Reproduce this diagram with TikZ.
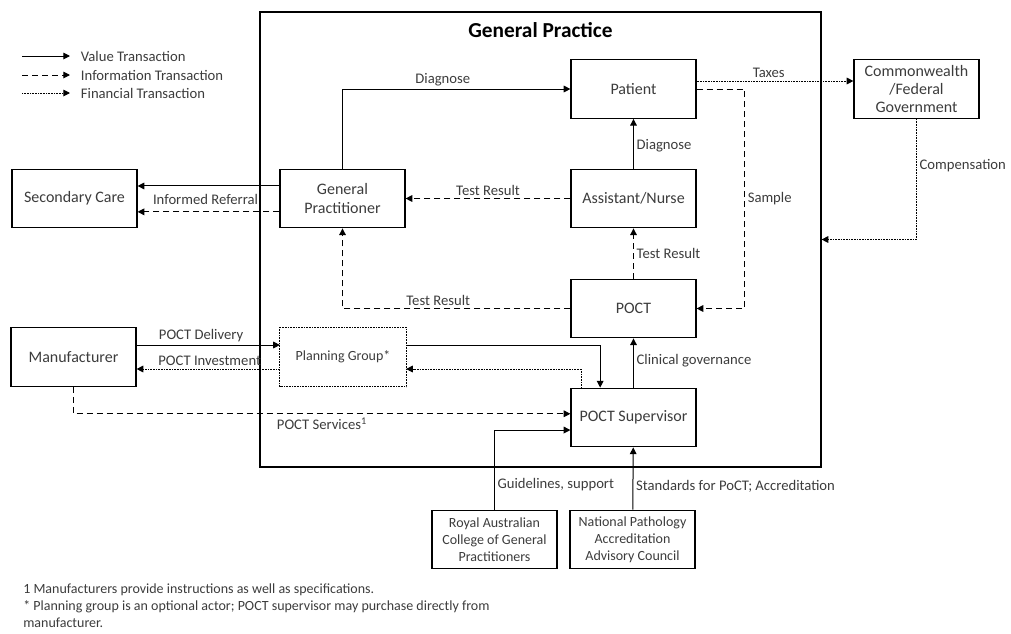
\documentclass[tikz,border=0pt]{standalone}
\usepackage{fontspec}
\setmainfont{Carlito}
\usetikzlibrary{arrows.meta}

\definecolor{txt}{HTML}{3C3C3C}
\tikzset{
  actor/.style={draw, line width=0.9pt, minimum width=93.75pt, minimum height=44pt,
    align=center, text=txt, font=\fontsize{12}{14}\selectfont},
  small actor/.style={actor, font=\fontsize{10.5}{12.8}\selectfont},
  lbl/.style={text=txt, font=\fontsize{11}{13}\selectfont, inner sep=2pt},
  value/.style={line width=0.75pt, -{Triangle[length=5pt,width=5pt]}},
  info/.style={value, dash pattern=on 4.5pt off 3pt},
  money/.style={value, dash pattern=on 0.6pt off 0.6pt},
}

\begin{document}
\begin{tikzpicture}[x=0.75pt, y=-0.75pt]
          \useasboundingbox (0, 0) rectangle (1011, 633);

          % General practice frame
          \node [draw, line width=0.9pt, minimum width=420.75pt, minimum height=341.25pt]
            (practice) at (540.5, 239.5) {};
          \node [font=\fontsize{16}{18}\selectfont\bfseries] (title) at (540.5, 30)
            {General Practice};

          % Actors
          \node [actor] (patient) at (633.5, 89) {Patient};
          \node [actor] (nurse) at (633.5, 198.5) {Assistant/Nurse};
          \node [actor] (poct) at (633.5, 308.5) {POCT};
          \node [actor] (sup) at (633.5, 417.5) {POCT Supervisor};
          \node [actor] (gp) at (342.5, 198.5) {General\\Practitioner};
          \node [actor] (sec) at (74.5, 198.5) {Secondary Care};
          \node [actor] (manu) at (73.5, 357) {Manufacturer};
          \node [actor, draw=none, font=\fontsize{10.5}{12.8}\selectfont] (plan) at (343, 357)
            {Planning Group*};
          \draw [line width=0.75pt, dash pattern=on 0.6pt off 0.6pt]
            (plan.north west) rectangle (plan.south east);
          \node [actor, font=\fontsize{12}{13.5}\selectfont] (gov) at (916.5, 89)
            {Commonwealth\\/Federal\\Government};
          \node [small actor] (racgp) at (494.5, 539.5)
            {Royal Australian\\College of General\\Practitioners};
          \node [small actor] (npaac) at (632.5, 539.5)
            {National Pathology\\Accreditation\\Advisory Council};

          % Transactions
          \draw [value] (gp.north) |- node [lbl, above, pos=0.72] (l1) {Diagnose} (patient.west);
          \draw [money] ([yshift=6pt]patient.east) -- node [lbl, above, pos=0.46] (l2) {Taxes}
            ([yshift=6pt]gov.west);
          \draw [info] (patient.east) -- ++(48, 0) |- node [lbl, right, pos=0.25] (l3) {Sample}
            (poct.east);
          \draw [value] (nurse) -- node [lbl, right, pos=0.47] (l4) {Diagnose} (patient);
          \draw [info] (nurse) -- node [lbl, above, pos=0.5] (l5) {Test Result} (gp);
          \draw [value] ([yshift=9.4pt]gp.west) -- ([yshift=9.4pt]sec.east);
          \draw [info] ([yshift=-10pt]gp.west) -- ([yshift=-10pt]sec.east);
          \node [lbl] (l6) at (205.5, 199) {Informed Referral};
          \draw [info] (poct) -- node [lbl, right, pos=0.5] (l7) {Test Result} (nurse);
          \draw [info] (poct.west) -| node [lbl, above, pos=0.29] (l8) {Test Result} (gp.south);
          \draw [money] (gov.south) |- node [lbl, right, pos=0.195] (l9) {Compensation}
            (practice.east);
          \draw [value] (sup) -- node [lbl, right, pos=0.55] (l10) {Clinical governance} (poct);
          \draw [value] ([yshift=9pt]manu.east) -- node [lbl, above, pos=0.45] (l11) {POCT Delivery}
            ([yshift=9pt]plan.west);
          \draw [money] ([yshift=-9pt]plan.west) -- node [lbl, above, pos=0.49] (l12) {POCT Investment}
            ([yshift=-9pt]manu.east);
          \draw [value] ([yshift=9pt]plan.east) -| ([xshift=-25pt]sup.north);
          \draw [money] ([xshift=-39pt]sup.north) |- ([yshift=-9pt]plan.east);
          \draw [info] (manu.south) |- ([yshift=2.8pt]sup.west);
          \node [lbl, anchor=west] (l13) at (274, 424) {POCT Services\textsuperscript{1}};
          \draw [value] (racgp.north) |- node [lbl, right, pos=0.16] (l14) {Guidelines, support}
            ([yshift=-9.4pt]sup.west);
          \draw [value] (npaac) -- node [lbl, right, pos=0.37] (l15)
            {Standards for PoCT; Accreditation} (sup);

          % Legend
          \foreach \kind/\name/\y in {value/Value/56, info/Information/75, money/Financial/93} {
            \coordinate (\kind-start) at (22, \y);
            \node [lbl, anchor=west, inner xsep=8pt] (\kind-key) at (70, \y) {\name\ Transaction};
            \draw [\kind] (\kind-start) -- (\kind-key.west);
          }

          % Notes
          \node [text=txt, anchor=north west, align=left, inner sep=0pt,
            font=\fontsize{10.5}{12.75}\selectfont] (notes) at (23, 584)
            {1 Manufacturers provide instructions as well as specifications.\\
             * Planning group is an optional actor; POCT supervisor may purchase directly from\\
             manufacturer.};
        \end{tikzpicture}
\end{document}
